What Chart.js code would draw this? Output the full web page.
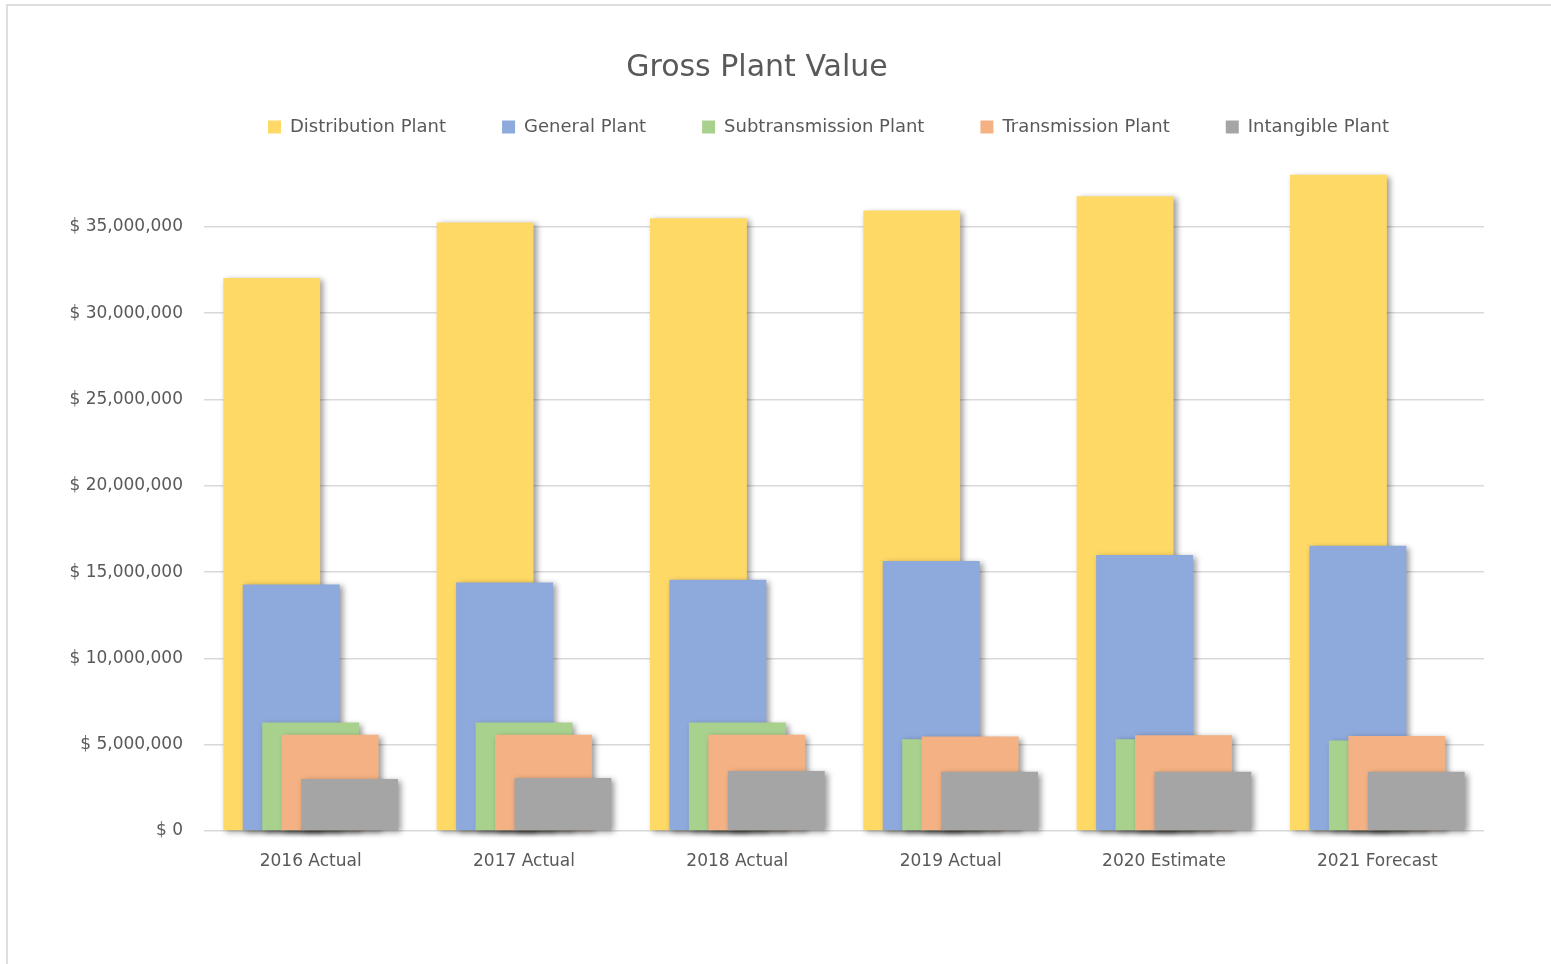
<!DOCTYPE html>
<html>
<head>
<meta charset="utf-8">
<title>Gross Plant Value</title>
<script src="https://cdn.jsdelivr.net/npm/chart.js@4.4.1/dist/chart.umd.min.js"></script>
<style>
  html, body { margin: 0; padding: 0; background: #fff; overflow: hidden; }
  #frame { position: absolute; left: 6px; top: 4px; width: 1700px; height: 1100px;
           border-left: 2px solid #dedede; border-top: 2px solid #dedede; }
  #wrap { position: absolute; left: 0; top: 0; width: 1551px; height: 964px; }
</style>
</head>
<body>
<div id="frame"></div>
<div id="wrap"><canvas id="plantChart"></canvas></div>
<script>
/* Gross plant value by year */
var years = ["2016 Actual", "2017 Actual", "2018 Actual", "2019 Actual", "2020 Estimate", "2021 Forecast"];
var distributionPlant = [32040000, 35260000, 35500000, 35950000, 36780000, 38020000];
var generalPlant = [14290000, 14400000, 14560000, 15650000, 15990000, 16530000];
var subtransmissionPlant = [6280000, 6280000, 6280000, 5320000, 5320000, 5240000];
var transmissionPlant = [5570000, 5570000, 5570000, 5470000, 5550000, 5510000];
var intangiblePlant = [3020000, 3070000, 3480000, 3440000, 3440000, 3440000];
var yTicks = [0, 5000000, 10000000, 15000000, 20000000, 25000000, 30000000, 35000000];

Chart.defaults.font.family = "'DejaVu Sans', sans-serif";
Chart.defaults.color = "#595959";

function series(label, data, color) {
	return {
		label : label,
		data : data,
		backgroundColor : color,
		borderColor : color,
		borderWidth : 0,
		clip : false
	};
}

// draw first series at the back, last one on top, each with an excel style shadow
var barShadow = {
	id : "barShadow",
	beforeDatasetsDraw : function(chart) {
		var ctx = chart.ctx;
		for (var i = 0; i < chart.data.datasets.length; i++) {
			var meta = chart.getDatasetMeta(i);
			if (!chart.isDatasetVisible(i)) continue;
			ctx.save();
			ctx.shadowColor = "rgba(0, 0, 0, 0.4)";
			ctx.shadowBlur = 6;
			ctx.shadowOffsetX = 3;
			ctx.shadowOffsetY = 2;
			meta.controller.draw();
			ctx.restore();
		}
		return false;
	}
};

// legend sits closer to the title than the layout gives it
var legendNudge = {
	id : "legendNudge",
	afterLayout : function(chart) {
		var lg = chart.legend;
		lg.left += 8;
		lg.right += 8;
		lg.top -= 24;
		lg.bottom -= 24;
	}
};

new Chart(document.getElementById("plantChart"), {
	type : "bar",
	data : {
		labels : years,
		datasets : [
			series("Distribution Plant", distributionPlant, "#FFD966"),
			series("General Plant", generalPlant, "#8EA9DB"),
			series("Subtransmission Plant", subtransmissionPlant, "#A9D18E"),
			series("Transmission Plant", transmissionPlant, "#F4B183"),
			series("Intangible Plant", intangiblePlant, "#A5A5A5")
		]
	},
	options : {
		responsive : true,
		maintainAspectRatio : false,
		animation : false,
		categoryPercentage : 0.456,
		barPercentage : 4.98,
		layout : {
			padding : { left : 30, right : 67, top : 0, bottom : 93 }
		},
		plugins : {
			title : {
				display : true,
				text : "Gross Plant Value",
				color : "#595959",
				font : { size : 30, weight : "normal" },
				padding : { top : 50, bottom : 0 }
			},
			legend : {
				position : "top",
				align : "start",
				fullSize : false,
				labels : {
					boxWidth : 13,
					boxHeight : 13,
					padding : 56,
					color : "#595959",
					font : { size : 18 }
				}
			},
			tooltip : { enabled : false }
		},
		scales : {
			x : {
				grid : { display : false, drawTicks : false },
				border : { display : false },
				ticks : { padding : 20, font : { size : 17 }, color : "#595959" },
				afterFit : function(scale) { scale.height = 40; }
			},
			y : {
				min : 0,
				max : 38300000,
				grid : { color : "#d9d9d9", lineWidth : 1.5, drawTicks : false },
				border : { display : false },
				ticks : {
					padding : 21,
					font : { size : 17 },
					color : "#595959",
					callback : function(value) {
						return "$ " + value.toLocaleString("en-US");
					}
				},
				afterBuildTicks : function(scale) {
					scale.ticks = yTicks.map(function(v) { return { value : v }; });
				},
				afterFit : function(scale) { scale.width = 174; }
			}
		}
	},
	plugins : [ barShadow, legendNudge ]
});
</script>
</body>
</html>
